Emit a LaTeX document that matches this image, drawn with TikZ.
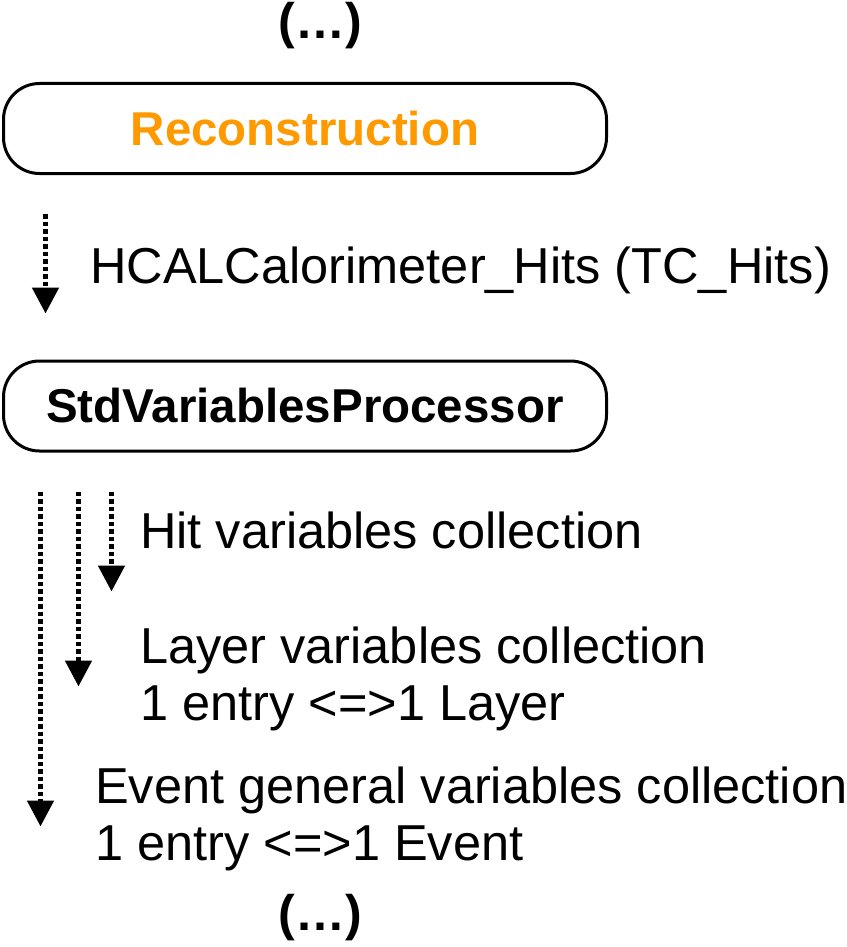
\documentclass[tikz,border=0pt]{standalone}
\usepackage{fontspec}
\setmainfont{Liberation Sans}
\usepackage{xcolor}
\usetikzlibrary{arrows.meta,positioning,calc}
\definecolor{recoorange}{RGB}{255,153,0}

\begin{document}
\begin{tikzpicture}[x=1pt, y=-1pt,
    procbox/.style={rectangle, rounded corners=36pt, draw, line width=3pt, minimum width=603pt, minimum height=90pt, align=center, font=\fontsize{47.5}{57}\selectfont\bfseries},
    txt/.style={anchor=base west, inner sep=0pt, align=left, font=\fontsize{50.5}{57}\selectfont},
    dotsnode/.style={anchor=base, inner sep=0pt, font=\fontsize{50}{57}\selectfont\bfseries},
    flow/.style={-{Triangle[length=26pt, width=26pt]}, line width=5pt, dash pattern=on 4.5pt off 3pt}
]
\useasboundingbox (0,0) rectangle (846,947);

\node[dotsnode] (moretop) at (320,39) {(…)};
\node[procbox, text=recoorange] (reco) at (305,128.5) {Reconstruction};
\node[txt] (hits) at (90,283) {HCALCalorimeter\_Hits (TC\_Hits)};
\node[procbox] (std) at (305,406) {StdVariablesProcessor};

\node[txt] (hitvars) at (140,548) {Hit variables collection};
\node[txt] (layervars) at (140,720) {Layer variables collection\\1 entry <=>1 Layer};
\node[txt] (eventvars) at (95,860) {Event general variables collection\\1 entry <=>1 Event};
\node[dotsnode] (morebottom) at (320,930) {(…)};

\draw[flow] ($(reco.south west)+(43.5,39)$) -- ($(std.north west)+(43.5,-46)$);
\draw[flow] ($(std.south west)+(109.5,39)$) -- ($(std.south west)+(109.5,139)$);
\draw[flow] ($(std.south west)+(76.5,39)$) -- ($(std.south west)+(76.5,234)$);
\draw[flow] ($(std.south west)+(38.5,39)$) -- ($(std.south west)+(38.5,374)$);
\end{tikzpicture}
\end{document}
